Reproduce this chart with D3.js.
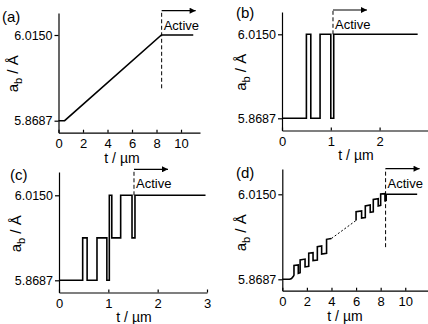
<!DOCTYPE html>
<html>
<head>
<meta charset="utf-8">
<script src="https://cdn.jsdelivr.net/npm/d3@7"></script>
<style>
body { margin: 0; background: #fff; }
svg { display: block; font-family: "Liberation Sans", Arial, sans-serif; }
</style>
</head>
<body>
<svg width="428" height="324"></svg>
<script>
// lattice parameter levels
const yTicks = [5.8687, 6.0150];
const panelLabels = ["(a)", "(b)", "(c)", "(d)"];

const xTicksA = [0, 2, 4, 6, 8, 10];
const xTicksB = [0, 1, 2];
const xTicksC = [0, 1, 2, 3];
const xTicksD = [0, 2, 4, 6, 8, 10];

// (a) linear ramp
const seriesA = [[0, 5.8687], [0.5, 5.8687], [8.4, 6.0150], [11.0, 6.0150]];

// (b) two-level switching
const seriesB = [
  [0, 5.8687], [0.50, 5.8687], [0.50, 6.0150], [0.59, 6.0150], [0.59, 5.8687],
  [0.78, 5.8687], [0.78, 6.0150], [1.00, 6.0150], [1.00, 5.8687], [1.06, 5.8687],
  [1.06, 6.0150], [2.78, 6.0150]
];

// (c) three-level switching
const seriesC = [
  [0, 5.8687], [0.48, 5.8687], [0.48, 5.9418], [0.57, 5.9418], [0.57, 5.8687],
  [0.77, 5.8687], [0.77, 5.9418], [0.97, 5.9418], [0.97, 5.8687], [1.02, 5.8687],
  [1.02, 6.0150], [1.07, 6.0150], [1.07, 5.9418], [1.25, 5.9418], [1.25, 6.0150],
  [1.48, 6.0150], [1.48, 5.9418], [1.54, 5.9418], [1.54, 6.0150], [2.97, 6.0150]
];

// (d) oscillating ramp, dotted gap in the middle
const seriesD1 = [
  [0, 5.8687], [0.6, 5.8687], [0.75, 5.8700], [0.9, 5.8740], [0.95, 5.8760],
  [0.95, 5.8925], [1.30, 5.8935], [1.30, 5.8790], [1.45, 5.8800], [1.45, 5.9020],
  [1.85, 5.9035], [1.85, 5.8900], [2.15, 5.8910], [2.15, 5.9135], [2.50, 5.9145],
  [2.50, 5.9010], [2.85, 5.9020], [2.85, 5.9250], [3.20, 5.9260], [3.20, 5.9120],
  [3.60, 5.9135], [3.60, 5.9375], [4.00, 5.9390]
];
const seriesD2 = [[4.00, 5.9390], [6.00, 5.9700]];
const seriesD3 = [
  [6.00, 5.9700], [6.00, 5.9850], [6.45, 5.9865], [6.45, 5.9740], [6.75, 5.9750],
  [6.75, 5.9950], [7.15, 5.9965], [7.15, 5.9840], [7.40, 5.9850], [7.40, 6.0060],
  [7.80, 6.0075], [7.80, 5.9950], [8.00, 5.9960], [8.00, 6.0155], [8.35, 6.0160],
  [8.35, 6.0040], [8.45, 6.0045], [8.45, 6.0150], [10.97, 6.0150]
];

// onset of the active phase and lower end of its dashed marker
const activeT = [8.42, 1.045, 1.52, 8.4];
const dashLow = [5.924, 6.0150, 6.0150, 5.924];

const panels = [
  { label: panelLabels[0], solid: [seriesA], dotted: [], xTicks: xTicksA, xMax: 11.55,
    left: 58.5, right: 200, top: 13, axisY: 132.7, yLow: 120.7, yHigh: 35, arrowY: 10.7,
    lx: 2, ly: 22, ylabX: 18, xlabX: 122, xlabY: 163 },
  { label: panelLabels[1], solid: [seriesB], dotted: [], xTicks: xTicksB, xMax: 3,
    left: 282, right: 428.4, top: 12, axisY: 130.5, yLow: 118.3, yHigh: 34.3, arrowY: 10,
    lx: 236, ly: 18, ylabX: 246, xlabX: 356, xlabY: 160 },
  { label: panelLabels[2], solid: [seriesC], dotted: [], xTicks: xTicksC, xMax: 3,
    left: 59, right: 207, top: 172, axisY: 292.5, yLow: 280.3, yHigh: 195.3, arrowY: 169.3,
    lx: 10, ly: 180, ylabX: 21, xlabX: 134, xlabY: 322 },
  { label: panelLabels[3], solid: [seriesD1, seriesD3], dotted: [seriesD2], xTicks: xTicksD, xMax: 11.85,
    left: 282.3, right: 428, top: 169, axisY: 290.7, yLow: 279.3, yHigh: 194.3, arrowY: 168.7,
    lx: 236, ly: 178, ylabX: 246, xlabX: 345, xlabY: 321 }
];

const svg = d3.select("svg");

svg.append("defs").append("marker")
  .attr("id", "head")
  .attr("viewBox", "0 0 10 10")
  .attr("refX", 10).attr("refY", 5)
  .attr("markerWidth", 9).attr("markerHeight", 6)
  .attr("markerUnits", "userSpaceOnUse")
  .attr("orient", "auto")
  .append("path")
  .attr("d", "M0,0L10,5L0,10Z")
  .attr("fill", "#000");

panels.forEach((p, i) => {
  const x = d3.scaleLinear().domain([0, p.xMax]).range([p.left, p.right]);
  const yBase = d3.scaleLinear().domain(yTicks).range([p.yLow, p.yHigh]);
  const y = yBase.copy()
    .domain([yBase.invert(p.axisY), yBase.invert(p.top)])
    .range([p.axisY, p.top]);

  const g = svg.append("g");

  const xAxis = d3.axisBottom(x)
    .tickValues(p.xTicks)
    .tickSizeInner(-3)
    .tickSizeOuter(0)
    .tickPadding(6)
    .tickFormat(d3.format("d"));

  const yAxis = d3.axisLeft(y)
    .tickValues(yTicks)
    .tickSizeInner(4)
    .tickSizeOuter(0)
    .tickPadding(2)
    .tickFormat(d3.format(".4f"));

  const gx = g.append("g")
    .attr("transform", `translate(0,${p.axisY})`)
    .call(xAxis);
  const gy = g.append("g")
    .attr("transform", `translate(${p.left},0)`)
    .call(yAxis);

  [gx, gy].forEach(a => {
    a.attr("font-family", null).attr("font-size", null);
    a.selectAll("path, line").attr("stroke", "#000").attr("stroke-width", 1.2);
    a.selectAll("text").attr("fill", "#000");
  });
  gx.selectAll("text").style("font-size", "13px");
  gy.selectAll("text").style("font-size", "12.5px");

  const line = d3.line().x(d => x(d[0])).y(d => y(d[1]));

  p.solid.forEach(s => {
    g.append("path")
      .attr("d", line(s))
      .attr("fill", "none")
      .attr("stroke", "#000")
      .attr("stroke-width", 1.6)
      .attr("stroke-linejoin", "miter");
  });
  p.dotted.forEach(s => {
    g.append("path")
      .attr("d", line(s))
      .attr("fill", "none")
      .attr("stroke", "#000")
      .attr("stroke-width", 1)
      .attr("stroke-dasharray", "2,2");
  });

  // active marker
  const ax = x(activeT[i]);
  g.append("line")
    .attr("x1", ax).attr("x2", ax)
    .attr("y1", y(dashLow[i])).attr("y2", p.arrowY)
    .attr("stroke", "#000")
    .attr("stroke-width", 1)
    .attr("stroke-dasharray", "4,2.5");
  g.append("line")
    .attr("x1", ax).attr("x2", ax + 34)
    .attr("y1", p.arrowY).attr("y2", p.arrowY)
    .attr("stroke", "#000")
    .attr("stroke-width", 1.2)
    .attr("marker-end", "url(#head)");
  g.append("text")
    .attr("x", ax + 2)
    .attr("y", p.arrowY + 19)
    .style("font-size", "13px")
    .text("Active");

  // panel letter
  g.append("text")
    .attr("x", p.lx).attr("y", p.ly)
    .style("font-size", "15px")
    .text(p.label);

  // axis titles
  g.append("text")
    .attr("x", p.xlabX)
    .attr("y", p.xlabY)
    .attr("text-anchor", "middle")
    .style("font-size", "14px")
    .text("t / \u00b5m");

  const yl = g.append("text")
    .attr("transform", `translate(${p.ylabX},${(p.yLow + p.yHigh) / 2 - 4}) rotate(-90)`)
    .attr("text-anchor", "middle")
    .style("font-size", "15px");
  yl.append("tspan").text("a");
  yl.append("tspan").attr("dy", 4).style("font-size", "11px").text("b");
  yl.append("tspan").attr("dy", -4).text(" / \u00c5");
});
</script>
</body>
</html>
